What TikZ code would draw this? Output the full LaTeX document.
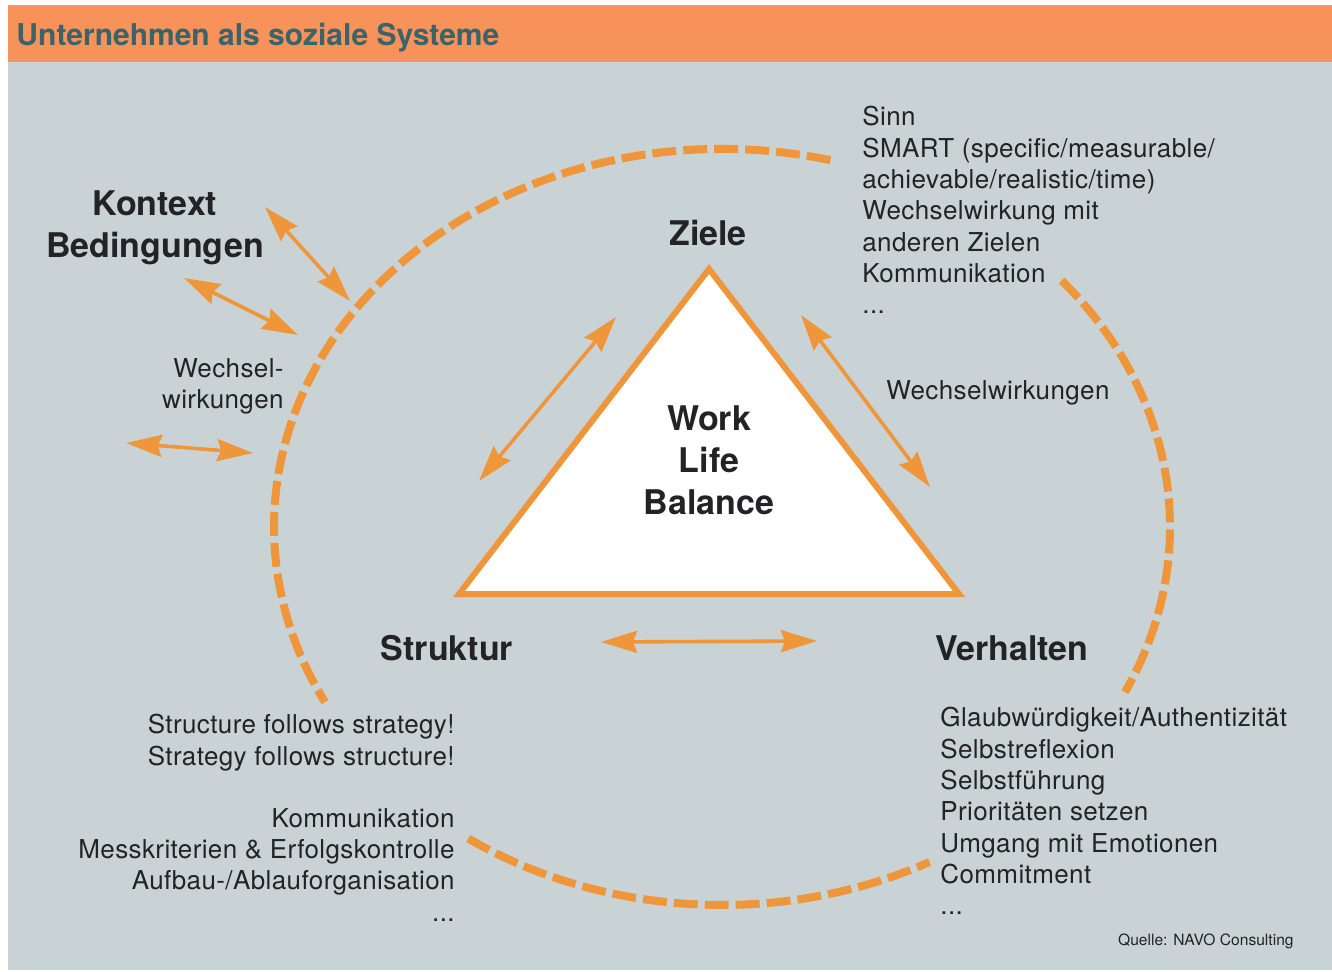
\documentclass[tikz,border=0pt]{standalone}
\usepackage{fontspec}
\setmainfont{TeX Gyre Heros}
\newfontfamily\bodyfont{TeX Gyre Heros}[LetterSpace=1.5]
\usepackage{xcolor}
\usetikzlibrary{arrows.meta,positioning}

\definecolor{navoorange}{HTML}{F0963A}
\definecolor{bandorange}{HTML}{F7925A}
\definecolor{panelgray}{HTML}{C9D3D6}
\definecolor{titleteal}{HTML}{3B6468}
\definecolor{textdark}{HTML}{232326}

\begin{document}
\begin{tikzpicture}[x=0.5pt, y=-0.5pt,
  every node/.style={inner sep=0pt, text=textdark},
  body/.style={font=\bodyfont\fontsize{13}{15.65}\selectfont},
  big/.style={font=\fontsize{17}{21}\selectfont\bfseries},
  twoway/.style={draw=navoorange, line width=1.8pt,
    {Stealth[length=18pt,width=11pt,inset=2pt]}-{Stealth[length=18pt,width=11pt,inset=2pt]}},
  ring/.style={draw=navoorange, line width=4pt, dash pattern=on 12pt off 3.5pt}]
\useasboundingbox (0,0) rectangle (1332,972);

% Panel and title band
\fill[white] (0,0) rectangle (1332,972);
\fill[panelgray] (8,62) rectangle (1332,970);
\fill[bandorange] (8,5) rectangle (1332,62);
\node[anchor=base west, font=\fontsize{15}{18}\selectfont\bfseries, text=titleteal] (title) at (16,46) {Unternehmen als soziale Systeme};

% Dashed ring, open where the text blocks sit
\coordinate (ctr) at (722,527);
\draw[ring] (ctr) ++(-76:448 and 378) arc[start angle=-76, end angle=-207.6, x radius=448, y radius=378];
\draw[ring] (ctr) ++(-40.7:448 and 378) arc[start angle=-40.7, end angle=25.9, x radius=448, y radius=378];
\draw[ring] (ctr) ++(124.5:448 and 378) arc[start angle=124.5, end angle=62.4, x radius=448, y radius=378];

% Triangle
\coordinate (apex) at (709,269);
\coordinate (bl) at (459,594);
\coordinate (br) at (959,594);
\draw[navoorange, line width=3pt, fill=white] (apex) -- (bl) -- (br) -- cycle;
\node[big, align=center] (wlb) at (709,460) {Work\\Life\\Balance};

% Corner labels
\node[big] (ziele) at (708,233) {Ziele};
\node[big] (struktur) at (447,648) {Struktur};
\node[big] (verhalten) at (1012,648) {Verhalten};
\node[big, align=center] (kontext) at (155,228) {Kontext\\Bedingungen};

% Arrows between the corners
\coordinate (zl1) at (616,317);
\coordinate (zl2) at (479,481);
\coordinate (zr1) at (801,315);
\coordinate (zr2) at (930,487);
\coordinate (sv1) at (601,642);
\coordinate (sv2) at (817,641);
\draw[twoway] (zl1) -- (zl2);
\draw[twoway] (zr1) -- (zr2);
\draw[twoway] (sv1) -- (sv2);

% Arrows to the context
\coordinate (k1a) at (265,207);
\coordinate (k1b) at (350,301);
\coordinate (k2a) at (184,278);
\coordinate (k2b) at (298,335);
\coordinate (k3a) at (126,443);
\coordinate (k3b) at (253,453);
\draw[twoway] (k1a) -- (k1b);
\draw[twoway] (k2a) -- (k2b);
\draw[twoway] (k3a) -- (k3b);

% Text blocks
\node[body, align=right, anchor=north east] (wechsel) at (284,358) {Wechsel-\\wirkungen};
\node[body, anchor=base west] (wechselr) at (886,400) {Wechselwirkungen};
\node[body, align=left, anchor=north west] (zieltext) at (862,106)
  {Sinn\\SMART (specific/measurable/\\achievable/realistic/time)\\Wechselwirkung mit\\anderen Zielen\\Kommunikation\\...};
\node[body, align=right, anchor=north east] (strategie) at (455,714)
  {Structure follows strategy!\\Strategy follows structure!};
\node[body, align=right, anchor=north east] (struktext) at (455,808)
  {Kommunikation\\Messkriterien \& Erfolgskontrolle\\Aufbau-/Ablauforganisation\\...};
\node[body, align=left, anchor=north west] (verhtext) at (940,707)
  {Glaubwürdigkeit/Authentizität\\Selbstreflexion\\Selbstführung\\Prioritäten setzen\\Umgang mit Emotionen\\Commitment\\...};
\node[font=\fontsize{7.8}{9}\selectfont, anchor=base east] (quelle) at (1294,945) {Quelle: NAVO Consulting};
\end{tikzpicture}
\end{document}
